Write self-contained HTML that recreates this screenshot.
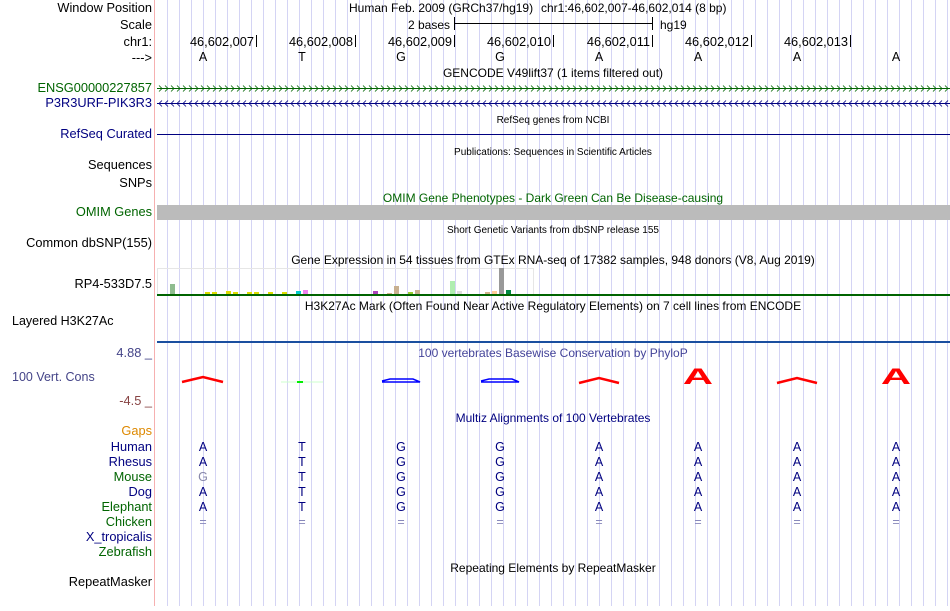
<!DOCTYPE html>
<html><head><meta charset="utf-8"><style>
body{margin:0;width:950px;height:606px;overflow:hidden;background:#fff}
svg text{font-family:"Liberation Sans",sans-serif}
</style></head><body>
<svg width="950" height="606" xmlns="http://www.w3.org/2000/svg">
<defs>
<pattern id="gp" x="167" y="0" width="12" height="10" patternUnits="userSpaceOnUse">
<rect x="0" y="0" width="1" height="10" fill="#d4d4f4"/>
</pattern>
<pattern id="ga" x="158" y="84" width="6" height="9" patternUnits="userSpaceOnUse">
<path d="M1 1.5 L4 4.5 L1 7.5" fill="none" stroke="#006400" stroke-width="0.8"/>
</pattern>
<pattern id="gb" x="158" y="99" width="6" height="9" patternUnits="userSpaceOnUse">
<path d="M4 1.5 L1 4.5 L4 7.5" fill="none" stroke="#000080" stroke-width="0.8"/>
</pattern>
</defs>
<rect x="167" y="0" width="783" height="606" fill="url(#gp)"/>
<line x1="154.5" y1="0" x2="154.5" y2="606" stroke="#f6b0b0"/>
<g font-size="12.8" text-anchor="end" fill="#000">
<text x="152" y="12">Window Position</text>
<text x="152" y="29">Scale</text>
<text x="152" y="46">chr1:</text>
<text x="152" y="62">---&gt;</text>
<text x="152" y="92" fill="#006400">ENSG00000227857</text>
<text x="152" y="107" fill="#000080">P3R3URF-PIK3R3</text>
<text x="152" y="138" fill="#000080">RefSeq Curated</text>
<text x="152" y="169">Sequences</text>
<text x="152" y="187">SNPs</text>
<text x="152" y="216" fill="#006400">OMIM Genes</text>
<text x="152" y="247">Common dbSNP(155)</text>
<text x="152" y="288">RP4-533D7.5</text>
<text x="152" y="357" fill="#444488">4.88 _</text>
<text x="152" y="405" fill="#884444">-4.5 _</text>
<text x="152" y="435" fill="#dd8800">Gaps</text>
<text x="152" y="451" fill="#000080">Human</text>
<text x="152" y="466" fill="#000080">Rhesus</text>
<text x="152" y="481" fill="#006400">Mouse</text>
<text x="152" y="496" fill="#000080">Dog</text>
<text x="152" y="511" fill="#006400">Elephant</text>
<text x="152" y="526" fill="#006400">Chicken</text>
<text x="152" y="541" fill="#000080">X_tropicalis</text>
<text x="152" y="556" fill="#006400">Zebrafish</text>
<text x="152" y="586">RepeatMasker</text>
</g>
<text x="12" y="325" font-size="12.5">Layered H3K27Ac</text>
<text x="12" y="381" font-size="12.5" fill="#444488">100 Vert. Cons</text>

<g font-size="12">
<text x="349" y="12">Human Feb. 2009 (GRCh37/hg19)</text>
<text x="541" y="12">chr1:46,602,007-46,602,014 (8 bp)</text>
<text x="450" y="29" text-anchor="end">2 bases</text>
<text x="660" y="29">hg19</text>
</g>
<g stroke="#000"><line x1="454" y1="23.5" x2="652" y2="23.5"/><line x1="454.5" y1="17" x2="454.5" y2="30"/><line x1="652.5" y1="17" x2="652.5" y2="30"/></g>
<g font-size="12.8" text-anchor="end">
<text x="254" y="46">46,602,007</text><text x="353" y="46">46,602,008</text><text x="452" y="46">46,602,009</text><text x="551" y="46">46,602,010</text><text x="650" y="46">46,602,011</text><text x="749" y="46">46,602,012</text><text x="848" y="46">46,602,013</text>
</g>
<g stroke="#000"><line x1="256.5" y1="35" x2="256.5" y2="47"/><line x1="355.5" y1="35" x2="355.5" y2="47"/><line x1="454.5" y1="35" x2="454.5" y2="47"/><line x1="553.5" y1="35" x2="553.5" y2="47"/><line x1="652.5" y1="35" x2="652.5" y2="47"/><line x1="751.5" y1="35" x2="751.5" y2="47"/><line x1="850.5" y1="35" x2="850.5" y2="47"/></g>
<g font-size="12.5" text-anchor="middle">
<text x="203" y="61">A</text><text x="302" y="61">T</text><text x="401" y="61">G</text><text x="500" y="61">G</text><text x="599" y="61">A</text><text x="698" y="61">A</text><text x="797" y="61">A</text><text x="896" y="61">A</text>
</g>
<g font-size="12" text-anchor="middle">
<text x="553" y="77">GENCODE V49lift37 (1 items filtered out)</text>
<text x="553" y="123" font-size="10">RefSeq genes from NCBI</text>
<text x="553" y="155" font-size="10">Publications: Sequences in Scientific Articles</text>
<text x="553" y="202" fill="#006400">OMIM Gene Phenotypes - Dark Green Can Be Disease-causing</text>
<text x="553" y="233" font-size="10">Short Genetic Variants from dbSNP release 155</text>
<text x="553" y="264">Gene Expression in 54 tissues from GTEx RNA-seq of 17382 samples, 948 donors (V8, Aug 2019)</text>
<text x="553" y="310">H3K27Ac Mark (Often Found Near Active Regulatory Elements) on 7 cell lines from ENCODE</text>
<text x="553" y="357" fill="#444499">100 vertebrates Basewise Conservation by PhyloP</text>
<text x="553" y="422" fill="#000080">Multiz Alignments of 100 Vertebrates</text>
<text x="553" y="572">Repeating Elements by RepeatMasker</text>
</g>
<rect x="158" y="84" width="792" height="9" fill="url(#ga)"/>
<rect x="158" y="99" width="792" height="9" fill="url(#gb)"/>
<line x1="157" y1="88.5" x2="950" y2="88.5" stroke="#006400"/>
<line x1="157" y1="103.5" x2="950" y2="103.5" stroke="#000080"/>
<line x1="157" y1="134.5" x2="950" y2="134.5" stroke="#000080"/>
<rect x="157" y="205" width="793" height="15" fill="#bbbbbb"/>
<rect x="157.5" y="268.5" width="376" height="26" fill="none" stroke="#e6e6e6"/>
<g>
<rect x="170" y="284" width="5" height="10" fill="#8fbc8f"/>
<rect x="205" y="292" width="5" height="2" fill="#dddd00"/><rect x="212" y="292" width="5" height="2" fill="#dddd00"/>
<rect x="226" y="291" width="5" height="3" fill="#dddd00"/><rect x="233" y="292" width="5" height="2" fill="#dddd00"/>
<rect x="247" y="292" width="5" height="2" fill="#dddd00"/><rect x="254" y="292" width="5" height="2" fill="#dddd00"/>
<rect x="268" y="292" width="5" height="2" fill="#dddd00"/><rect x="282" y="292" width="5" height="2" fill="#dddd00"/>
<rect x="296" y="291" width="5" height="3" fill="#00cccc"/><rect x="303" y="290" width="5" height="4" fill="#ee82ee"/>
<rect x="373" y="291" width="5" height="3" fill="#aa44bb"/><rect x="387" y="293" width="5" height="1" fill="#d2b48c"/>
<rect x="394" y="286" width="5" height="8" fill="#c8b090"/><rect x="408" y="292" width="5" height="2" fill="#99cc33"/>
<rect x="415" y="290" width="5" height="4" fill="#c8b090"/><rect x="450" y="281" width="5" height="13" fill="#b0eeb0"/>
<rect x="457" y="291" width="5" height="3" fill="#dddddd"/><rect x="485" y="292" width="5" height="2" fill="#d2b48c"/>
<rect x="492" y="291" width="5" height="3" fill="#ffcc99"/><rect x="499" y="268" width="5" height="26" fill="#999999"/>
<rect x="506" y="290" width="5" height="4" fill="#008844"/>
</g>
<rect x="157" y="294" width="793" height="2" fill="#006400"/>
<rect x="157" y="341" width="793" height="2" fill="#1a4f9f"/>
<g fill="none" stroke-width="2.5">
<path d="M182 382 L203 377 L223 382" stroke="#ff0000"/>
<path d="M281 382 L323 382" stroke="#ccffcc" stroke-width="1"/><rect x="297" y="381" width="6" height="2" fill="#00ee00" stroke="none"/>
<path d="M382 381 L390 379 L413 379 L420 382 L382 382" stroke="#0000ff" stroke-width="1.5"/>
<path d="M481 381 L489 379 L512 379 L519 382 L481 382" stroke="#0000ff" stroke-width="1.5"/>
<path d="M579 383 L599 378 L619 383" stroke="#ff0000"/>
<path d="M777 383 L797 378 L817 383" stroke="#ff0000"/>
</g>
<g fill="#ff0000" font-weight="bold" font-size="22" text-anchor="middle">
<text x="698" y="384" transform="translate(698 0) scale(1.9 1) translate(-698 0)">A</text>
<text x="896" y="384" transform="translate(896 0) scale(1.9 1) translate(-896 0)">A</text>
</g>
<g font-size="12.5" text-anchor="middle" fill="#000080">
<text x="203" y="451">A</text><text x="302" y="451">T</text><text x="401" y="451">G</text><text x="500" y="451">G</text><text x="599" y="451">A</text><text x="698" y="451">A</text><text x="797" y="451">A</text><text x="896" y="451">A</text>
<text x="203" y="466">A</text><text x="302" y="466">T</text><text x="401" y="466">G</text><text x="500" y="466">G</text><text x="599" y="466">A</text><text x="698" y="466">A</text><text x="797" y="466">A</text><text x="896" y="466">A</text>
<text x="203" y="481" fill="#8888aa">G</text><text x="302" y="481">T</text><text x="401" y="481">G</text><text x="500" y="481">G</text><text x="599" y="481">A</text><text x="698" y="481">A</text><text x="797" y="481">A</text><text x="896" y="481">A</text>
<text x="203" y="496">A</text><text x="302" y="496">T</text><text x="401" y="496">G</text><text x="500" y="496">G</text><text x="599" y="496">A</text><text x="698" y="496">A</text><text x="797" y="496">A</text><text x="896" y="496">A</text>
<text x="203" y="511">A</text><text x="302" y="511">T</text><text x="401" y="511">G</text><text x="500" y="511">G</text><text x="599" y="511">A</text><text x="698" y="511">A</text><text x="797" y="511">A</text><text x="896" y="511">A</text>
<g fill="#8888bb"><text x="203" y="526">=</text><text x="302" y="526">=</text><text x="401" y="526">=</text><text x="500" y="526">=</text><text x="599" y="526">=</text><text x="698" y="526">=</text><text x="797" y="526">=</text><text x="896" y="526">=</text></g>
</g>
</svg>
</body></html>
